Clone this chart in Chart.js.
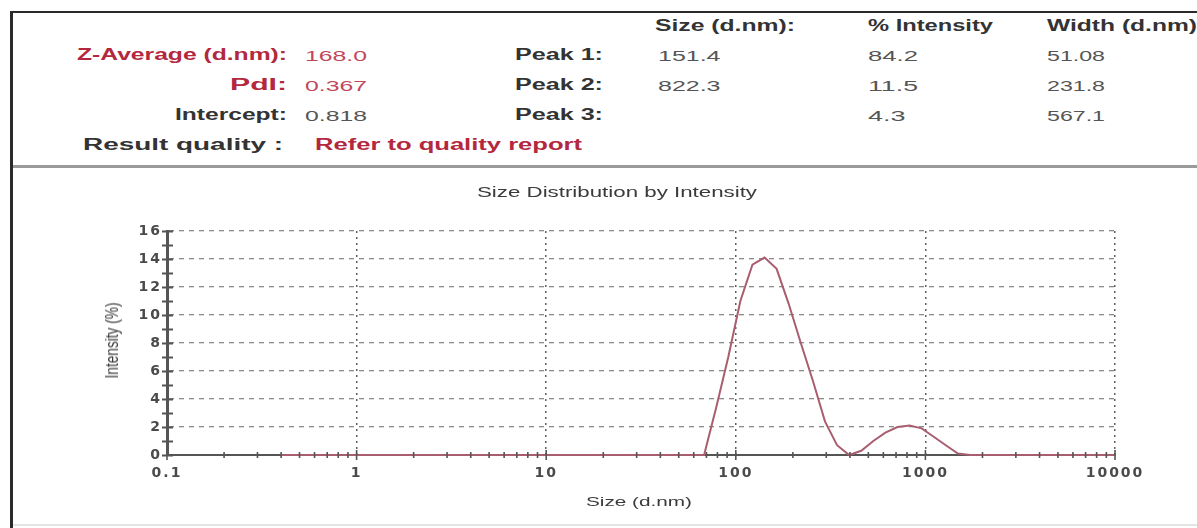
<!DOCTYPE html>
<html><head><meta charset="utf-8">
<script src="https://cdn.jsdelivr.net/npm/chart.js@4.4.1/dist/chart.umd.min.js"></script>
<style>
html,body{margin:0;padding:0;background:#fff;}
body{width:1197px;height:528px;position:relative;overflow:hidden;font-family:"Liberation Sans",Arial,sans-serif;}
.ln{position:absolute;}
.t{position:absolute;white-space:nowrap;line-height:1;}
.lab{font-size:16px;font-weight:bold;color:#333;}
.labr{font-size:16px;font-weight:bold;color:#b3283e;}
.val{font-size:15px;color:#555;}
.valr{font-size:15px;color:#c0475a;}
.ttl{font-size:14px;color:#3a3a3a;}
.axt{font-size:13px;color:#3a3a3a;}
#wrap{position:absolute;left:0;top:170px;width:1197px;height:358px;}
</style></head><body>
<div class="ln" style="left:10px;top:11px;width:1187px;height:2px;background:#2a2a2a"></div>
<div class="ln" style="left:10px;top:11px;width:3px;height:517px;background:#2a2a2a"></div>
<div class="ln" style="left:13px;top:165px;width:1184px;height:3px;background:#9a9a9a"></div>
<div class="ln" style="left:13px;top:524px;width:1184px;height:2px;background:#e4e4e4"></div>
<div id="wrap"><canvas id="c" width="1197" height="358"></canvas></div>
<script>
// ---- summary data ----
const summaryLabels = ['Z-Average (d.nm):', 'PdI:', 'Intercept:'];
const summaryValues = ['168.0', '0.367', '0.818'];
const resultQuality = 'Refer to quality report';
const peakLabels = ['Peak 1:', 'Peak 2:', 'Peak 3:'];
const peakHeaders = ['Size (d.nm):', '% Intensity', 'Width (d.nm)'];
const peakSize = ['151.4', '822.3', ''];
const peakIntensity = ['84.2', '11.5', '4.3'];
const peakWidth = ['51.08', '231.8', '567.1'];

// ---- distribution data ----
const sizes = [0.4, 0.4632, 0.5365, 0.6213, 0.7195, 0.8332, 0.9649, 1.117, 1.294, 1.499,
  1.736, 2.01, 2.328, 2.696, 3.122, 3.615, 4.187, 4.849, 5.615, 6.503,
  7.531, 8.721, 10.1, 11.7, 13.54, 15.69, 18.17, 21.04, 24.36, 28.21,
  32.67, 37.84, 43.82, 50.75, 58.77, 68.06, 78.82, 91.28, 105.7, 122.4,
  141.8, 164.2, 190.1, 220.2, 255.0, 295.3, 342.0, 396.1, 458.7, 531.2,
  615.1, 712.4, 825.0, 955.4, 1106, 1281, 1484, 1718, 1990, 2305,
  2669, 3091, 3580, 4145, 4801, 5560, 6439, 7456, 8635, 10000];
const intensity = [0, 0, 0, 0, 0, 0, 0, 0, 0, 0,
  0, 0, 0, 0, 0, 0, 0, 0, 0, 0,
  0, 0, 0, 0, 0, 0, 0, 0, 0, 0,
  0, 0, 0, 0, 0, 0, 3.4, 7.0, 11.0, 13.6,
  14.1, 13.3, 10.8, 8.0, 5.3, 2.4, 0.7, 0.0, 0.3, 1.0,
  1.6, 2.0, 2.1, 1.9, 1.3, 0.7, 0.1, 0, 0, 0,
  0, 0, 0, 0, 0, 0, 0, 0, 0, 0];
const xTickValues = [0.1, 1, 10, 100, 1000, 10000];
const xTickLabels = ['0.1', '1', '10', '100', '1000', '10000'];
const yTickValues = [0, 2, 4, 6, 8, 10, 12, 14, 16];
const chartTitle = 'Size Distribution by Intensity';
const xTitle = 'Size (d.nm)';
const yTitle = 'Intensity (%)';

// ---- header text placement ----
function place(txt, x, y, w, anchor, cls) {
  if (!txt) return;
  const el = document.createElement('span');
  el.className = 't ' + cls; el.textContent = txt;
  document.body.appendChild(el);
  const w0 = el.getBoundingClientRect().width;
  const fs = parseFloat(getComputedStyle(el).fontSize);
  const s = w / w0;
  el.style.left = (anchor === 'r' ? x - w : anchor === 'c' ? x - w / 2 : x) + 'px';
  el.style.top = (y - 0.49 * fs) + 'px';
  el.style.transformOrigin = '0 0';
  el.style.transform = 'scaleX(' + s + ')';
}
const rowY = [55, 85, 115];
place(peakHeaders[0], 655, 26, 140, 'l', 'lab');
place(peakHeaders[1], 868, 26, 125, 'l', 'lab');
place(peakHeaders[2], 1047, 26, 150, 'l', 'lab');
const sumW = [210, 57, 112];
for (let i = 0; i < 3; i++) {
  place(summaryLabels[i], 287, rowY[i], sumW[i], 'r', i < 2 ? 'labr' : 'lab');
  place(summaryValues[i], 305, rowY[i], 62, 'l', i < 2 ? 'valr' : 'val');
  place(peakLabels[i], 603, rowY[i], 88, 'r', 'lab');
  place(peakSize[i], 658, rowY[i], peakSize[i].length * 12.5, 'l', 'val');
  place(peakIntensity[i], 868, rowY[i], peakIntensity[i].length * 12.5, 'l', 'val');
  place(peakWidth[i], 1047, rowY[i], peakWidth[i].length * 11.6, 'l', 'val');
}
place('Result quality :', 83, 145, 200, 'l', 'lab');
place(resultQuality, 315, 145, 267, 'l', 'labr');
place(chartTitle, 477, 192, 280, 'l', 'ttl');
place(xTitle, 586, 501, 106, 'l', 'axt');
(function () {
  const el = document.createElement('span');
  el.className = 't axt'; el.textContent = yTitle;
  document.body.appendChild(el);
  const r = el.getBoundingClientRect();
  el.style.left = (112 - r.width / 2) + 'px';
  el.style.top = (340 - r.height / 2) + 'px';
  el.style.transformOrigin = '50% 50%';
  el.style.transform = 'rotate(-90deg) scaleX(' + (76 / r.width) + ') scaleY(1.35)';
})();

// ---- chart ----
const tickFont = {family: 'DejaVu Sans', size: 14, weight: 'bold'};
const spacingPlugin = {
  id: 'spacing',
  beforeDraw(chart) { chart.ctx.letterSpacing = '2px'; },
  afterDraw(chart) { chart.ctx.letterSpacing = '0px'; }
};
const minorTicks = {
  id: 'minorTicks',
  afterDraw(chart) {
    const ctx = chart.ctx, xs = chart.scales.x, ys = chart.scales.y;
    const ax = xs.left, ay = ys.bottom;
    ctx.save();
    ctx.strokeStyle = '#555'; ctx.lineWidth = 2;
    ctx.beginPath();
    for (let v = ys.min; v <= ys.max; v += 1) {
      const py = Math.round(ys.getPixelForValue(v)) + 0.5;
      ctx.moveTo(ax - 5, py); ctx.lineTo(ax + 6, py);
    }
    ctx.stroke();
    ctx.lineWidth = 1.6;
    ctx.beginPath();
    for (let d = 0; d < xTickValues.length; d++) {
      const base = xTickValues[d];
      const px = xs.getPixelForValue(base);
      ctx.moveTo(px, ay - 5); ctx.lineTo(px, ay + 5);
      if (d < xTickValues.length - 1) {
        for (let m = 2; m <= 9; m++) {
          const qx = xs.getPixelForValue(base * m);
          ctx.moveTo(qx, ay - 3); ctx.lineTo(qx, ay + 3);
        }
      }
    }
    ctx.stroke();
    ctx.restore();
  }
};

new Chart(document.getElementById('c'), {
  type: 'scatter',
  data: {
    datasets: [{
      data: sizes.map((s, i) => ({x: s, y: intensity[i]})),
      showLine: true,
      borderColor: '#a95e70',
      borderWidth: 2,
      pointRadius: 0,
      tension: 0,
      clip: 6
    }]
  },
  options: {
    responsive: false,
    animation: false,
    events: [],
    layout: {padding: {left: 0, right: 82, top: 61, bottom: 0}},
    plugins: {legend: {display: false}, title: {display: false}, tooltip: {enabled: false}},
    scales: {
      x: {
        type: 'logarithmic', min: 0.1, max: 10000,
        afterBuildTicks: (s) => { s.ticks = xTickValues.map(v => ({value: v})); },
        afterFit: (s) => { s.height = 73; },
        ticks: {
          autoSkip: false, maxRotation: 0, minRotation: 0, padding: 10,
          color: '#4a4a4a', font: tickFont,
          callback: (v) => { const i = xTickValues.indexOf(v); return i >= 0 ? xTickLabels[i] : ''; }
        },
        grid: {color: '#5e5e5e', lineWidth: 1.5, drawTicks: false},
        border: {display: true, color: '#555', width: 2, dash: [2, 4]}
      },
      y: {
        min: 0, max: 16,
        afterBuildTicks: (s) => { s.ticks = yTickValues.map(v => ({value: v})); },
        afterFit: (s) => { s.width = 167; },
        ticks: {padding: 5, color: '#4a4a4a', font: tickFont},
        grid: {color: '#8a8a8a', lineWidth: 1.3, drawTicks: false},
        border: {display: true, color: '#555', width: 3, dash: [5, 5]}
      }
    }
  },
  plugins: [spacingPlugin, minorTicks]
});
</script>
</body></html>
